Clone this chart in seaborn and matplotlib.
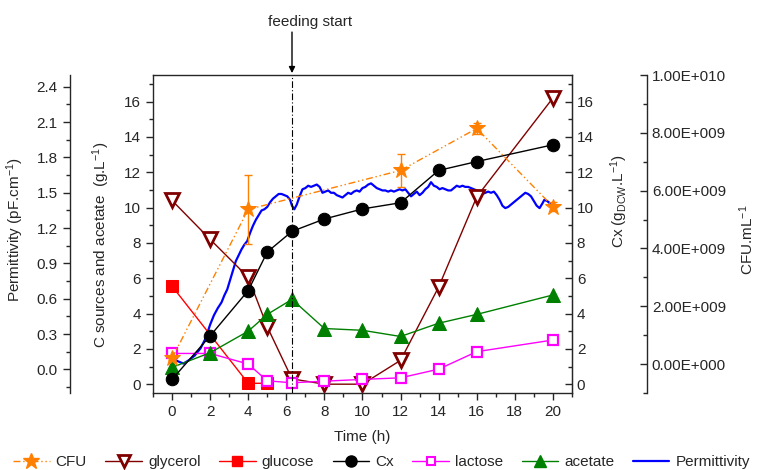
import numpy as np
import pandas as pd
import matplotlib
matplotlib.use('Agg')
import matplotlib.pyplot as plt
from matplotlib.lines import Line2D
from matplotlib.ticker import MultipleLocator, FuncFormatter
import seaborn as sns

sns.set_style('ticks')
plt.rcParams['font.family'] = ['Liberation Sans', 'DejaVu Sans']
plt.rcParams['mathtext.fontset'] = 'custom'
plt.rcParams['mathtext.rm'] = 'Liberation Sans'
plt.rcParams['mathtext.it'] = 'Liberation Sans:italic'
plt.rcParams['font.size'] = 11

# 샘플링 시간 (h)
t_main = [0, 2, 4, 5, 6.3, 8, 10, 12, 14, 16, 20]
cx = [0.27, 2.73, 5.3, 7.48, 8.65, 9.35, 9.92, 10.27, 12.1, 12.6, 13.55]
glycerol = [10.4, 8.2, 6.05, 3.25, 0.3, 0.0, 0.0, 1.35, 5.5, 10.6, 16.2]
lactose = [1.74, 1.74, 1.14, 0.19, 0.08, 0.17, 0.27, 0.36, 0.85, 1.84, 2.5]
acetate = [0.95, 1.78, 3.0, 3.95, 4.8, 3.15, 3.05, 2.7, 3.45, 3.95, 5.05]

t_glucose = [0, 4, 5]
glucose = [5.55, 0.05, 0.05]

t_cfu = [0, 4, 12, 16, 20]
cfu = [0.2e9, 5.35e9, 6.7e9, 8.15e9, 5.45e9]
cfu_err = [0.05e9, 1.2e9, 0.58e9, 0.2e9, 0.15e9]

# 유전율 (온라인 측정)
t_perm = [0.0, 0.05, 0.3, 0.6, 0.9, 1.2, 1.5, 1.75, 2.0, 2.2, 2.4, 2.6, 2.75, 2.9,
          3.05, 3.2, 3.35, 3.5, 3.65, 3.8, 3.95, 4.1, 4.25, 4.4, 4.55, 4.7, 4.85,
          5.0, 5.15, 5.3, 5.45, 5.6, 5.75, 5.9, 6.05, 6.2, 6.3, 6.42, 6.55, 6.7,
          6.85, 7.0, 7.15, 7.3, 7.45, 7.6, 7.75, 7.9, 8.05, 8.2, 8.35, 8.5, 8.65,
          8.8, 8.95, 9.1, 9.25, 9.4, 9.55, 9.7, 9.85, 10.0, 10.15, 10.3, 10.45,
          10.6, 10.75, 10.9, 11.05, 11.2, 11.35, 11.5, 11.65, 11.8, 11.95, 12.1,
          12.25, 12.4, 12.55, 12.7, 12.85, 13.0, 13.15, 13.3, 13.45, 13.6, 13.75,
          13.9, 14.05, 14.2, 14.35, 14.5, 14.65, 14.8, 14.95, 15.1, 15.25, 15.4,
          15.55, 15.7, 15.85, 16.0, 16.15, 16.3, 16.45, 16.6, 16.75, 16.9, 17.05,
          17.2, 17.35, 17.5, 17.65, 17.8, 17.95, 18.1, 18.25, 18.4, 18.55, 18.7,
          18.85, 19.0, 19.15, 19.3, 19.45, 19.55, 19.7, 19.85, 20.0, 20.1, 20.2]
perm = [0.00, 0.09, 0.07, 0.05, 0.08, 0.12, 0.18, 0.26, 0.38, 0.46, 0.52, 0.57, 0.63, 0.68,
        0.76, 0.84, 0.92, 0.97, 1.02, 1.06, 1.09, 1.16, 1.22, 1.27, 1.31, 1.35, 1.36,
        1.38, 1.42, 1.45, 1.47, 1.49, 1.49, 1.48, 1.47, 1.44, 1.39, 1.36, 1.40, 1.47,
        1.53, 1.54, 1.56, 1.55, 1.56, 1.57, 1.55, 1.50, 1.51, 1.52, 1.50, 1.50, 1.48,
        1.47, 1.46, 1.48, 1.50, 1.49, 1.51, 1.52, 1.51, 1.54, 1.55, 1.57, 1.58,
        1.56, 1.54, 1.53, 1.52, 1.52, 1.51, 1.52, 1.51, 1.52, 1.53, 1.52,
        1.53, 1.50, 1.47, 1.49, 1.51, 1.48, 1.50, 1.53, 1.55, 1.59, 1.56,
        1.55, 1.53, 1.54, 1.53, 1.52, 1.52, 1.54, 1.56, 1.55, 1.56, 1.55,
        1.55, 1.54, 1.53, 1.52, 1.50, 1.49, 1.50, 1.51, 1.50, 1.51, 1.48,
        1.44, 1.39, 1.37, 1.38, 1.40, 1.42, 1.44, 1.46, 1.48, 1.50, 1.49,
        1.47, 1.43, 1.39, 1.37, 1.41, 1.44, 1.43, 1.41, 1.37, 1.39, 1.38]

feeding_t = 6.3

fig = plt.figure(figsize=(7.63, 4.70), dpi=100)
ax = fig.add_axes([0.2005, 0.1638, 0.5491, 0.6766])
ax_perm = ax.twinx()
ax_cx = ax.twinx()
ax_cfu = ax.twinx()

# 유전율 축을 뒤로
ax_perm.set_zorder(0)
ax.set_zorder(1)
ax_cx.set_zorder(2)
ax_cfu.set_zorder(3)
ax.patch.set_visible(False)

c_cfu = '#FF8000'
c_gly = '#800000'
c_glu = '#FF0000'
c_lac = '#FF00FF'
c_ace = '#008000'
c_perm = '#0000FF'

cfu_ls = (0, (5, 2, 1, 2, 1, 2))

# 유전율
sns.lineplot(x=t_perm, y=perm, ax=ax_perm, color=c_perm, lw=1.6, sort=False, estimator=None)

# C sources, acetate
sns.lineplot(x=t_main, y=glycerol, ax=ax, color=c_gly, lw=1, marker='v', ms=10,
             mfc='white', mec=c_gly, mew=2, estimator=None)
sns.lineplot(x=t_glucose, y=glucose, ax=ax, color=c_glu, lw=1, marker='s', ms=8,
             mec=c_glu, estimator=None)
sns.lineplot(x=t_main, y=lactose, ax=ax, color=c_lac, lw=1, marker='s', ms=7,
             mfc='white', mec=c_lac, mew=1.6, estimator=None)
sns.lineplot(x=t_main, y=acetate, ax=ax, color=c_ace, lw=1, marker='^', ms=10,
             mec=c_ace, estimator=None)

# Cx
sns.lineplot(x=t_main, y=cx, ax=ax_cx, color='black', lw=1, marker='o', ms=9,
             mec='black', estimator=None)

# CFU
sns.lineplot(x=t_cfu, y=cfu, ax=ax_cfu, color=c_cfu, lw=1, linestyle=cfu_ls,
             marker='*', ms=12, mec=c_cfu, estimator=None)
ax_cfu.errorbar(t_cfu, cfu, yerr=cfu_err, fmt='none', ecolor=c_cfu, elinewidth=1,
                capsize=3, capthick=1)

for a in (ax, ax_perm, ax_cx, ax_cfu):
    lg = a.get_legend()
    if lg is not None:
        lg.remove()
    a.set_xlim(-1, 21)

# feeding start
ax.axvline(feeding_t, color='black', lw=0.8, linestyle=(0, (6, 2, 1, 2)))
ax.annotate('', xy=(feeding_t, 1.006), xycoords=('data', 'axes fraction'),
            xytext=(feeding_t, 1.135), textcoords=('data', 'axes fraction'),
            arrowprops=dict(arrowstyle='-|>', color='black', lw=1, mutation_scale=9,
                            shrinkA=0, shrinkB=0))
ax.text(feeding_t + 0.95, 1.167, 'feeding start', transform=ax.get_xaxis_transform(),
        ha='center', va='center', fontsize=11)

# 메인 축
ax.set_ylim(-0.5, 17.5)
ax.yaxis.set_major_locator(MultipleLocator(2))
ax.yaxis.set_minor_locator(MultipleLocator(1))
ax.xaxis.set_major_locator(MultipleLocator(2))
ax.xaxis.set_minor_locator(MultipleLocator(1))
ax.tick_params(axis='both', which='major', direction='out', length=5, width=1, labelsize=11)
ax.tick_params(axis='both', which='minor', direction='out', length=3, width=1)
ax.tick_params(axis='y', which='both', right=False)
ax.tick_params(axis='x', which='both', top=False)
for s in ax.spines.values():
    s.set_linewidth(1)
    s.set_visible(True)
ax.set_xlabel('Time (h)', fontsize=11)
ax.xaxis.set_label_coords(0.5, -0.115)
ax.set_ylabel('C sources and acetate  (g.L$\\mathregular{^{-1}}$)', fontsize=11)
ax.yaxis.set_label_coords(-0.098, 0.467)

# Cx 축
ax_cx.set_ylim(-0.5, 17.5)
ax_cx.yaxis.set_major_locator(MultipleLocator(2))
ax_cx.yaxis.set_minor_locator(MultipleLocator(1))
ax_cx.tick_params(axis='y', which='major', direction='in', length=5, width=1, labelsize=11)
ax_cx.tick_params(axis='y', which='minor', direction='in', length=3, width=1)
for k in ('left', 'top', 'bottom'):
    ax_cx.spines[k].set_visible(False)
ax_cx.set_ylabel('Cx (g$\\mathregular{_{DCW}}$.L$\\mathregular{^{-1}}$)', fontsize=11)
ax_cx.yaxis.set_label_coords(1.088, 0.604)

# 유전율 축
ax_perm.set_ylim(-0.2, 2.5)
ax_perm.yaxis.tick_left()
ax_perm.yaxis.set_label_position('left')
ax_perm.spines['left'].set_position(('outward', 60))
ax_perm.spines['left'].set_visible(True)
ax_perm.spines['left'].set_linewidth(1)
for k in ('right', 'top', 'bottom'):
    ax_perm.spines[k].set_visible(False)
ax_perm.yaxis.set_major_locator(MultipleLocator(0.3))
ax_perm.yaxis.set_minor_locator(MultipleLocator(0.15))
ax_perm.yaxis.set_major_formatter(FuncFormatter(lambda v, p: f'{v:.1f}'))
ax_perm.tick_params(axis='y', which='major', direction='out', length=5, width=1, labelsize=11)
ax_perm.tick_params(axis='y', which='minor', direction='out', length=3, width=1)
ax_perm.set_ylabel('Permittivity (pF.cm$\\mathregular{^{-1}}$)', fontsize=11)
ax_perm.yaxis.set_label_coords(-0.303, 0.514)


# CFU 축
def sci_fmt(v, pos):
    if v == 0:
        return '0.00E+000'
    e = int(np.floor(np.log10(abs(v))))
    return f'{v / 10 ** e:.2f}E+{e:03d}'


ax_cfu.set_ylim(-1e9, 1e10)
ax_cfu.spines['right'].set_position(('outward', 54))
for k in ('left', 'top', 'bottom'):
    ax_cfu.spines[k].set_visible(False)
ax_cfu.spines['right'].set_linewidth(1)
ax_cfu.yaxis.set_major_locator(MultipleLocator(2e9))
ax_cfu.yaxis.set_minor_locator(MultipleLocator(1e9))
ax_cfu.yaxis.set_major_formatter(FuncFormatter(sci_fmt))
ax_cfu.yaxis.get_offset_text().set_visible(False)
ax_cfu.tick_params(axis='y', which='major', direction='in', length=5, width=1, labelsize=11)
ax_cfu.tick_params(axis='y', which='minor', direction='in', length=3, width=1)
ax_cfu.set_ylabel('CFU.mL$\\mathregular{^{-1}}$', fontsize=11, rotation=90)
ax_cfu.yaxis.set_label_coords(1.394, 0.481)

for a in (ax_perm, ax_cx, ax_cfu):
    a.set_xlabel('')
    a.tick_params(axis='x', which='both', bottom=False, top=False, labelbottom=False)

# 범례
handles = [
    Line2D([], [], color=c_cfu, lw=1, linestyle=cfu_ls, marker='*', ms=12, mec=c_cfu),
    Line2D([], [], color=c_gly, lw=1, marker='v', ms=9, mfc='white', mec=c_gly, mew=2),
    Line2D([], [], color=c_glu, lw=1, marker='s', ms=7, mec=c_glu),
    Line2D([], [], color='black', lw=1, marker='o', ms=8),
    Line2D([], [], color=c_lac, lw=1, marker='s', ms=6, mfc='white', mec=c_lac, mew=1.5),
    Line2D([], [], color=c_ace, lw=1, marker='^', ms=9, mec=c_ace),
    Line2D([], [], color=c_perm, lw=1.6),
]
labels = ['CFU', 'glycerol', 'glucose', 'Cx', 'lactose', 'acetate', 'Permittivity']
fig.legend(handles, labels, loc='center', bbox_to_anchor=(0.5, 0.017), ncol=7,
           frameon=False, fontsize=11, handlelength=2.4, handletextpad=0.4,
           columnspacing=1.2, borderaxespad=0)

fig.savefig('out.png', dpi=100)
